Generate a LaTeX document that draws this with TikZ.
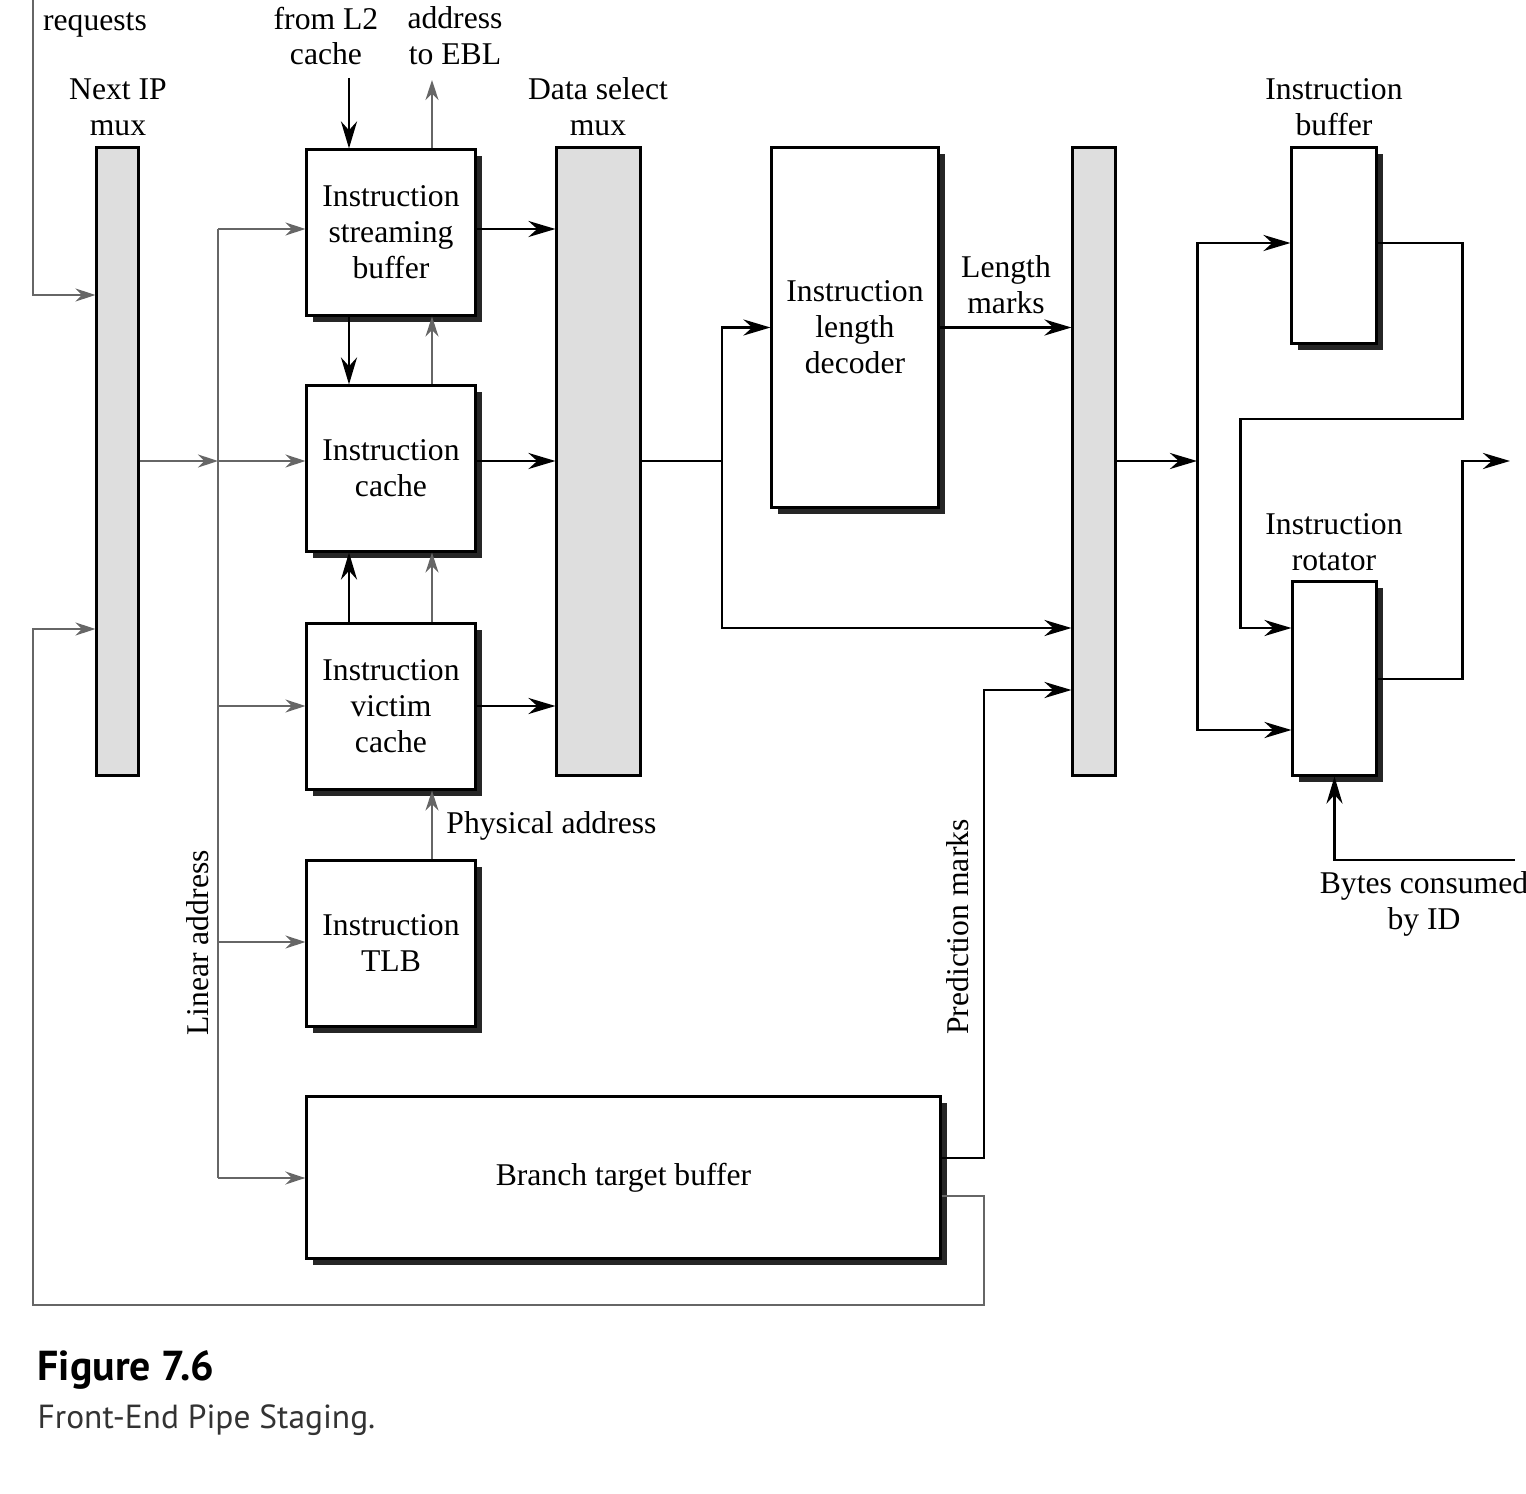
\documentclass[tikz,border=0pt]{standalone}
\usepackage{fontspec}
\setmainfont{Liberation Serif}
\newfontfamily\capfont{PT Sans}
\usepackage{tikz}
\usetikzlibrary{arrows.meta}
\usetikzlibrary{shadows}
\usetikzlibrary{positioning}
\tikzstyle{blk}=[rectangle,draw,line width=0.85pt,fill=white,align=center,drop shadow={shadow xshift=0.065cm,shadow yshift=-0.065cm,fill=black!85,opacity=1}]
\tikzstyle{mux}=[rectangle,draw,line width=0.85pt,fill=black!13]
\tikzstyle{dat}=[->,>={Stealth[length=2.7mm,width=1.6mm]},draw=black,line width=0.85pt]
\tikzstyle{dline}=[draw=black,line width=0.85pt]
\tikzstyle{adr}=[->,>={Stealth[length=2mm,width=1.3mm]},draw=black!60,line width=0.6pt]
\tikzstyle{aline}=[draw=black!60,line width=0.6pt]
\tikzstyle{lbl}=[align=center]

\begin{document}
\begin{tikzpicture}[x=0.01cm,y=-0.01cm,every node/.style={font=\fontsize{9}{10.2}\selectfont}]
    \useasboundingbox (0,0) rectangle (1526,1494);
    % muxes
    \node[mux,minimum width=0.41cm,minimum height=6.27cm] (NIP) at (117.5,461.5) {};
    \node[mux,minimum width=0.83cm,minimum height=6.27cm] (DSM) at (598.5,461.5) {};
    \node[mux,minimum width=0.42cm,minimum height=6.27cm] (LM) at (1094,461.5) {};
    % blocks
    \node[blk,minimum width=1.68cm,minimum height=1.65cm] (ISB) at (391,232.5) {Instruction\\streaming\\buffer};
    \node[blk,minimum width=1.68cm,minimum height=1.65cm] (IC) at (391,468.5) {Instruction\\cache};
    \node[blk,minimum width=1.68cm,minimum height=1.65cm] (IVC) at (391,706.5) {Instruction\\victim\\cache};
    \node[blk,minimum width=1.68cm,minimum height=1.65cm] (TLB) at (391,943.5) {Instruction\\TLB};
    \node[blk,minimum width=6.33cm,minimum height=1.61cm] (BTB) at (623.5,1177.5) {Branch target buffer};
    \node[blk,minimum width=1.66cm,minimum height=3.59cm] (ILD) at (855,327.5) {Instruction\\length\\decoder};
    \node[blk,minimum width=0.84cm,minimum height=1.95cm] (IB) at (1334,245.5) {};
    \node[blk,minimum width=0.83cm,minimum height=1.93cm] (IR) at (1334.5,678.5) {};
    % labels
    \node[lbl] (Lrq) at (95,25) {requests};
    \node[lbl] (Ll2) at (326,36) {from L2\\cache};
    \node[lbl] (Lebl) at (455,36) {address\\to EBL};
    \node[lbl] (Lnip) at (118,107) {Next IP\\mux};
    \node[lbl] (Ldsm) at (598,107) {Data select\\mux};
    \node[lbl] (Lib) at (1334,107) {Instruction\\buffer};
    \node[lbl] (Lir) at (1334,542) {Instruction\\rotator};
    \node[lbl] (Llm) at (1006,285) {Length\\marks};
    \node[anchor=west] (Lpa) at (434,826) {Physical address};
    \node[rotate=90] (Lla) at (198,943) {Linear address};
    \node[rotate=90] (Lpm) at (958,927) {Prediction marks};
    \node[lbl] (Lbc) at (1424,904) {Bytes consumed\\by ID};
    \node[anchor=base west,inner sep=0pt,font=\capfont\bfseries\fontsize{11.9}{14}\selectfont] (Fig) at (37,1380) {Figure 7.6};
    \node[anchor=base west,inner sep=0pt,font=\capfont\fontsize{9.5}{12}\selectfont,text=black!80] (Cap) at (37,1428) {Front-End Pipe Staging.};
    % address paths
    \coordinate (RQ) at (33,0);
    \coordinate (LA) at (218,461);
    \coordinate (EBL) at (432,80);
    \draw[adr] (RQ) |- (NIP.west |- 0,295);
    \draw[adr] (BTB.east |- 0,1196) -- (984,1196) |- (33,1305) |- (NIP.west |- 0,629);
    \draw[adr] (NIP.east |- LA) -- (LA);
    \draw[aline] (LA |- 0,229) -- (LA |- 0,1178);
    \foreach \n/\y in {ISB/229,IC/461,IVC/706,TLB/942,BTB/1178}
        \draw[adr] (LA |- 0,\y) -- (\n.west |- 0,\y);
    \draw[adr] (ISB.north -| EBL) -- (EBL);
    \draw[adr] (IC.north -| EBL) -- (ISB.south -| EBL);
    \draw[adr] (IVC.north -| EBL) -- (IC.south -| EBL);
    \draw[adr] (TLB.north -| EBL) -- (IVC.south -| EBL);
    % data paths
    \coordinate (L2) at (349,78);
    \coordinate (S) at (722,461);
    \coordinate (PM) at (984,690);
    \coordinate (T) at (1197,461);
    \coordinate (OUT) at (1510,461);
    \coordinate (BC) at (1515,860);
    \draw[dat] (L2) -- (L2 |- ISB.north);
    \draw[dat] (ISB.south -| L2) -- (IC.north -| L2);
    \draw[dat] (IVC.north -| L2) -- (IC.south -| L2);
    \foreach \n/\y in {ISB/229,IC/461,IVC/706}
        \draw[dat] (\n.east |- 0,\y) -- (DSM.west |- 0,\y);
    \draw[dline] (DSM.east |- S) -- (S);
    \draw[dat] (S) |- (ILD.west);
    \draw[dat] (S) |- (LM.west |- 0,628);
    \draw[dat] (ILD.east) -- (ILD.east -| LM.west);
    \draw[dat] (BTB.east |- 0,1158) -| (PM) -- (PM -| LM.west);
    \draw[dat] (LM.east |- T) -- (T);
    \draw[dat] (T) |- (IB.west |- 0,243);
    \draw[dat] (T) |- (IR.west |- 0,730);
    \draw[dat] (IB.east |- 0,243) -- (1462,243) |- (1240,419) |- (IR.west |- 0,628);
    \draw[dat] (IR.east |- 0,679) -| (1462,461) -- (OUT);
    \draw[dat] (BC) -| (IR.south);
\end{tikzpicture}
\end{document}
